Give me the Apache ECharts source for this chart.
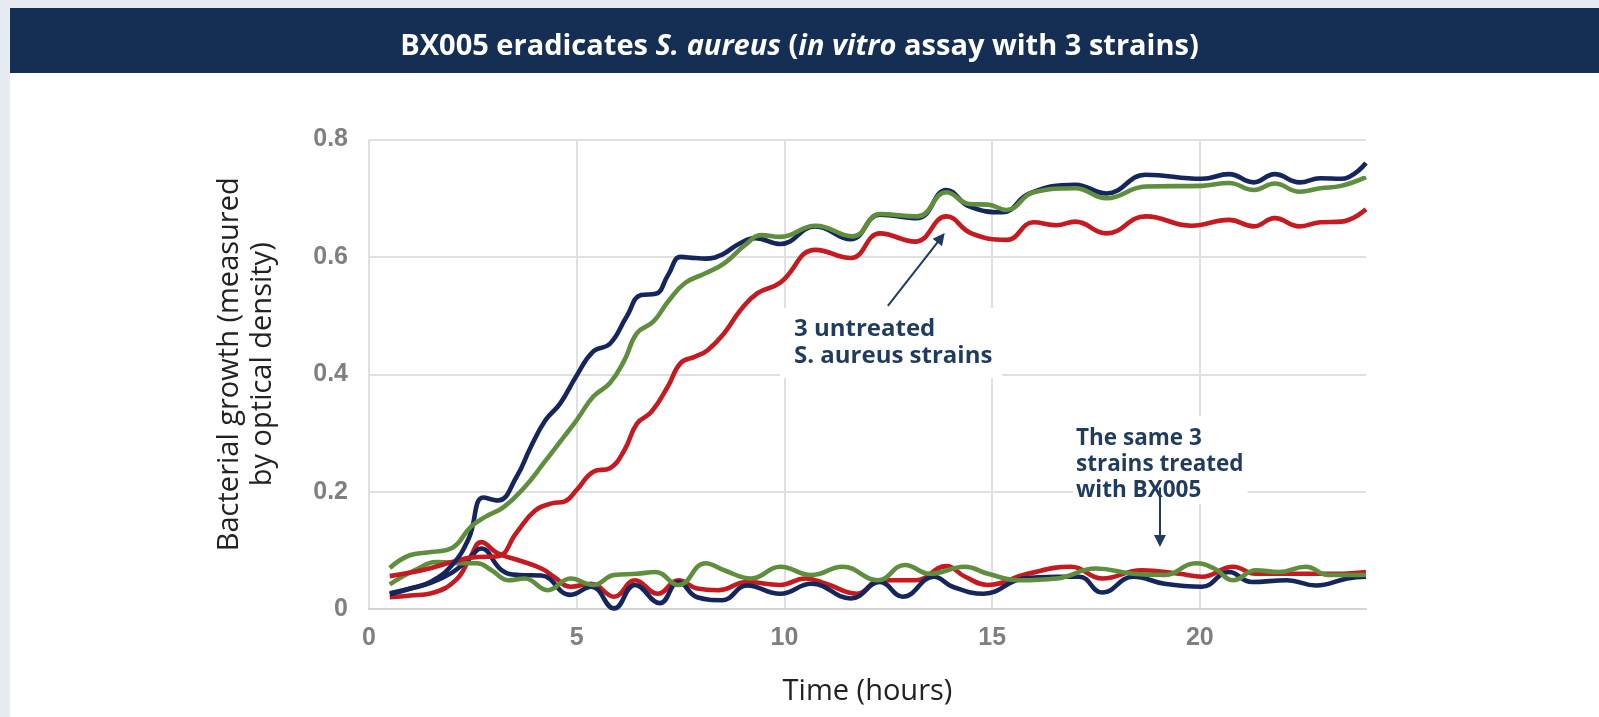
<!DOCTYPE html>
<html>
<head>
<meta charset="utf-8">
<script src="https://cdn.jsdelivr.net/npm/echarts@6/dist/echarts.min.js"></script>
<style>
  html, body { margin: 0; padding: 0; background: #fff; }
  #chart { width: 1599px; height: 717px; }
</style>
</head>
<body>
<div id="chart"></div>
<script>
// [hours, optical density]
const untreatedBlue = [[0.5,0.025],[1.0,0.035],[1.5,0.047],[2.0,0.075],[2.4,0.12],[2.75,0.19],[3.1,0.185],[3.55,0.225],[3.9,0.277],[4.25,0.322],[4.6,0.35],[5.0,0.398],[5.4,0.439],[5.8,0.452],[6.2,0.498],[6.55,0.535],[6.9,0.537],[7.2,0.569],[7.5,0.6],[7.85,0.598],[8.1,0.597],[8.5,0.604],[8.9,0.622],[9.3,0.632],[9.9,0.622],[10.75,0.652],[11.6,0.63],[12.3,0.672],[13.2,0.666],[13.9,0.714],[14.45,0.686],[15.25,0.676],[15.9,0.708],[17.0,0.723],[17.75,0.708],[18.7,0.74],[20.05,0.733],[20.7,0.741],[21.3,0.727],[21.8,0.741],[22.4,0.727],[22.9,0.734],[23.4,0.733],[24.0,0.76]];
const untreatedGreen = [[0.5,0.07],[1.0,0.092],[1.5,0.097],[2.0,0.104],[2.45,0.14],[2.8,0.157],[3.25,0.174],[3.75,0.208],[4.2,0.248],[4.7,0.294],[5.0,0.322],[5.4,0.362],[5.8,0.385],[6.15,0.424],[6.45,0.47],[6.85,0.49],[7.2,0.524],[7.6,0.555],[8.1,0.572],[8.55,0.589],[9.05,0.62],[9.45,0.637],[9.9,0.634],[10.75,0.653],[11.65,0.635],[12.3,0.673],[13.2,0.669],[13.9,0.71],[14.45,0.69],[14.9,0.689],[15.35,0.68],[16.0,0.71],[17.0,0.717],[17.75,0.7],[18.7,0.72],[20.05,0.721],[20.7,0.726],[21.3,0.714],[21.8,0.725],[22.4,0.711],[22.9,0.717],[23.4,0.721],[24.0,0.736]];
const untreatedRed = [[0.5,0.056],[1.0,0.062],[1.5,0.07],[2.0,0.08],[2.5,0.088],[3.1,0.09],[3.55,0.13],[4.0,0.168],[4.4,0.18],[4.7,0.183],[5.0,0.203],[5.4,0.234],[5.8,0.24],[6.15,0.271],[6.45,0.316],[6.8,0.336],[7.2,0.38],[7.5,0.419],[7.85,0.43],[8.15,0.441],[8.55,0.47],[8.95,0.51],[9.35,0.538],[9.9,0.556],[10.75,0.612],[11.6,0.598],[12.3,0.64],[13.15,0.626],[13.9,0.669],[14.5,0.64],[15.35,0.629],[16.0,0.659],[16.55,0.654],[17.0,0.66],[17.75,0.64],[18.7,0.669],[19.8,0.653],[20.7,0.663],[21.3,0.652],[21.8,0.666],[22.4,0.652],[22.9,0.659],[23.4,0.66],[24.0,0.681]];

const treatedBlue = [[0.5,0.027],[1.0,0.035],[1.5,0.045],[2.0,0.062],[2.4,0.085],[2.7,0.103],[3.2,0.066],[3.6,0.058],[4.15,0.057],[4.85,0.024],[5.35,0.038],[5.9,0.001],[6.4,0.041],[7.0,0.01],[7.45,0.046],[7.9,0.02],[8.5,0.015],[9.1,0.04],[9.9,0.026],[10.65,0.043],[11.6,0.018],[12.3,0.046],[12.85,0.021],[13.6,0.055],[14.05,0.038],[14.8,0.026],[15.75,0.052],[16.55,0.055],[17.1,0.055],[17.65,0.028],[18.4,0.055],[19.15,0.043],[20.05,0.038],[20.7,0.063],[21.25,0.046],[22.1,0.049],[22.8,0.04],[23.55,0.052],[24.0,0.055]];
const treatedGreen = [[0.5,0.042],[1.1,0.066],[1.65,0.08],[2.3,0.078],[2.6,0.078],[2.95,0.066],[3.35,0.049],[3.75,0.052],[4.3,0.032],[4.85,0.052],[5.4,0.041],[5.9,0.058],[6.45,0.06],[6.9,0.063],[7.45,0.041],[8.1,0.078],[8.55,0.066],[9.2,0.052],[9.9,0.072],[10.65,0.058],[11.4,0.072],[12.25,0.049],[12.9,0.075],[13.5,0.06],[14.35,0.072],[14.9,0.06],[15.65,0.049],[16.55,0.052],[17.5,0.069],[18.4,0.06],[19.15,0.058],[19.9,0.078],[20.35,0.069],[20.8,0.049],[21.35,0.066],[21.9,0.063],[22.55,0.072],[23.1,0.058],[24.0,0.058]];
const treatedRed = [[0.5,0.02],[1.0,0.023],[1.5,0.027],[2.1,0.05],[2.45,0.09],[2.7,0.114],[3.1,0.095],[3.6,0.083],[4.15,0.069],[4.45,0.055],[4.85,0.038],[5.35,0.043],[5.9,0.021],[6.4,0.049],[6.95,0.026],[7.45,0.049],[7.9,0.035],[8.4,0.032],[9.1,0.046],[9.9,0.041],[10.5,0.052],[11.0,0.043],[11.75,0.026],[12.3,0.049],[13.15,0.049],[13.9,0.073],[14.35,0.055],[14.9,0.041],[15.85,0.06],[16.9,0.072],[17.65,0.052],[18.6,0.066],[19.5,0.06],[20.05,0.055],[20.8,0.072],[21.35,0.06],[22.4,0.06],[23.3,0.06],[24.0,0.063]];

// annotation arrows, [hours, OD] for start and end
const arrowUntreated = [[12.49, 0.5165], [13.77, 0.6325]];
const arrowTreated = [[19.04, 0.207], [19.04, 0.116]];

const NAVY = '#15265c', GREEN = '#5e8e3e', RED = '#c41a20', NOTE = '#1f3b5e';

const chart = echarts.init(document.getElementById('chart'));

function curve(data, color) {
  return {
    type: 'line', data: data, smooth: 0.45, showSymbol: false, silent: true,
    lineStyle: { width: 4.6, color: color }, itemStyle: { color: color }
  };
}

const series = [
  curve(treatedRed, RED), curve(treatedBlue, NAVY), curve(treatedGreen, GREEN),
  curve(untreatedRed, RED), curve(untreatedBlue, NAVY), curve(untreatedGreen, GREEN)
];
// arrows pointing at the two groups of curves
series.push({
  type: 'line', data: [], silent: true, z: 10,
  markLine: {
    silent: true, animation: false, z: 10,
    symbol: ['none', 'triangle'], symbolSize: 12,
    label: { show: false },
    lineStyle: { color: NOTE, width: 2, type: 'solid' },
    data: [
      [{ coord: arrowUntreated[0] }, { coord: arrowUntreated[1] }],
      [{ coord: arrowTreated[0] }, { coord: arrowTreated[1] }]
    ]
  }
});

const option = {
  animation: false,
  backgroundColor: '#fff',
  title: {
    text: '{n|BX005 eradicates }{i|S. aureus}{n| (}{i|in vitro}{n| assay with 3 strains)}',
    left: 'center', top: 32, padding: 0,
    textStyle: {
      rich: {
        n: { color: '#fff', fontFamily: 'Open Sans', fontWeight: 'bold', fontSize: 29 },
        i: { color: '#fff', fontFamily: 'Open Sans', fontWeight: 'bold', fontStyle: 'italic', fontSize: 29 }
      }
    }
  },
  graphic: [
    { type: 'rect', z: -10, shape: { x: 0, y: 0, width: 1599, height: 8 }, style: { fill: '#e6ebf1' } },
    { type: 'rect', z: -10, shape: { x: 0, y: 0, width: 10, height: 717 }, style: { fill: '#e6ebf1' } },
    { type: 'rect', z: -5, shape: { x: 10, y: 8, width: 1589, height: 65 }, style: { fill: '#142e54' } },
    {
      type: 'text', z: 1, left: 780, top: 308,
      style: {
        text: '3 untreated\nS. aureus strains', fill: NOTE,
        font: 'bold 24px "Open Sans"', lineHeight: 27,
        backgroundColor: '#fff', padding: [8, 10, 8, 14]
      }
    },
    {
      type: 'text', z: 1, left: 1073, top: 416,
      style: {
        text: 'The same 3\nstrains treated\nwith BX005', fill: NOTE,
        font: 'bold 22.5px "Open Sans"', lineHeight: 26,
        backgroundColor: '#fff', padding: [10, 4, 0, 3]
      }
    }
  ],
  grid: { left: 369, right: 233, top: 139.5, bottom: 108 },
  xAxis: {
    type: 'value', min: 0, max: 24, interval: 5,
    name: 'Time (hours)', nameLocation: 'middle', nameGap: 68,
    nameTextStyle: { color: '#222', fontFamily: 'Open Sans', fontSize: 29 },
    axisLine: { show: true, lineStyle: { color: '#d4d4d4', width: 2 } },
    axisTick: { show: false },
    axisLabel: { color: '#7f7f7f', fontFamily: 'Liberation Sans', fontWeight: 'bold', fontSize: 25, margin: 17, showMaxLabel: false },
    splitLine: { show: true, showMaxLine: false, lineStyle: { color: '#e0e0e0', width: 2 } }
  },
  yAxis: {
    type: 'value', min: 0, max: 0.8, interval: 0.2,
    name: 'Bacterial growth (measured\nby optical density)', nameLocation: 'middle', nameGap: 90,
    nameTextStyle: { color: '#222', fontFamily: 'Open Sans', fontSize: 29, lineHeight: 33, padding: [0, 0, 0, 20] },
    axisLine: { show: false },
    axisTick: { show: false },
    axisLabel: { color: '#7f7f7f', fontFamily: 'Liberation Sans', fontWeight: 'bold', fontSize: 25, margin: 21 },
    splitLine: { show: true, lineStyle: { color: '#e0e0e0', width: 2 } }
  },
  series: series
};

chart.setOption(option);
</script>
</body>
</html>
